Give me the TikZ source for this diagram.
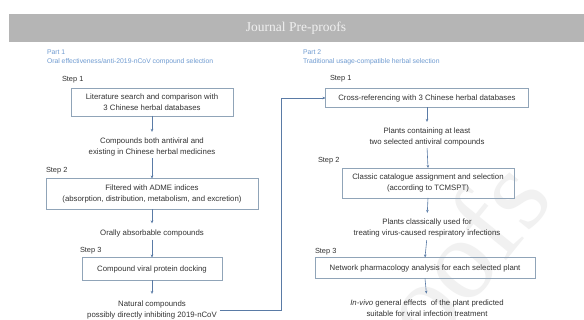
\documentclass[tikz,border=0pt]{standalone}
\usepackage{fontspec}
\setmainfont{Liberation Sans}
\newfontfamily\headserif{Liberation Serif}
\usetikzlibrary{arrows.meta}
\definecolor{partblue}{HTML}{6F9BD1}
\definecolor{boxline}{HTML}{90A4B8}
\definecolor{arrowblue}{HTML}{5A7BA6}
\definecolor{txtgray}{HTML}{333333}
\definecolor{bargray}{HTML}{B5B5B5}
\definecolor{wmgray}{HTML}{F1F1F1}
\begin{document}
\begin{tikzpicture}[x=1pt,y=-1pt,
  every node/.style={inner sep=0pt, outer sep=0pt},
  body/.style={font=\fontsize{7.8}{11}\selectfont, text=txtgray, align=center},
  steplabel/.style={font=\fontsize{7.4}{9}\selectfont, text=txtgray, anchor=west},
  partlabel/.style={font=\fontsize{6.8}{9}\selectfont, text=partblue, anchor=west},
  stepbox/.style={draw=boxline, line width=0.7pt, body},
  conn/.style={draw=arrowblue, line width=0.6pt, -{Stealth[length=3pt,width=2.6pt]}},
]
\useasboundingbox (0,0) rectangle (584,320);
\fill[white] (0,0) rectangle (584,320);
% watermark
\begin{scope}
\clip (0,0) rectangle (584,320);
\node[font=\headserif\fontsize{115}{115}\selectfont, text=wmgray, rotate=51, anchor=base east] (wm) at (556,200) {Journal Pre-proofs};
\end{scope}
% header bar
\fill[bargray] (9,14) rectangle (584,42);
\node[font=\headserif\fontsize{13.5}{13.5}\selectfont, text=white!94!black] (head) at (296,28) {Journal Pre-proofs};

% Part labels
\node[partlabel] (p1) at (47,52) {Part 1};
\node[partlabel] (p1s) at (47,62) {Oral effectiveness/anti-2019-nCoV compound selection};
\node[partlabel] (p2) at (303,52) {Part 2};
\node[partlabel] (p2s) at (303,62) {Traditional usage-compatible herbal selection};

% Left column
\node[steplabel] (ls1) at (62,80) {Step 1};
\node[stepbox, minimum width=162pt, minimum height=28pt] (b1) at (152,102) {Literature search and comparison with\\3 Chinese herbal databases};
\node[body] (t1) at (152,147) {Compounds both antiviral and\\existing in Chinese herbal medicines};
\node[steplabel] (ls2) at (46,171) {Step 2};
\node[stepbox, minimum width=212pt, minimum height=31pt] (b2) at (152,194) {Filtered with ADME indices\\(absorption, distribution, metabolism, and excretion)};
\node[body] (t2) at (152,233) {Orally absorbable compounds};
\node[steplabel] (ls3) at (80,251) {Step 3};
\node[stepbox, minimum width=140pt, minimum height=23pt] (b3) at (152,269) {Compound viral protein docking};
\node[body] (t3) at (152,310) {Natural compounds\\possibly directly inhibiting 2019-nCoV};

% Right column
\node[steplabel] (rs1) at (330,79) {Step 1};
\node[stepbox, minimum width=203pt, minimum height=19pt] (r1) at (427,98) {Cross-referencing with 3 Chinese herbal databases};
\node[body] (rt1) at (427,137) {Plants containing at least\\two selected antiviral compounds};
\node[steplabel] (rs2) at (318,161) {Step 2};
\node[stepbox, minimum width=172pt, minimum height=30pt] (r2) at (428,183) {Classic catalogue assignment and selection\\(according to TCMSPT)};
\node[body] (rt2) at (427,228) {Plants classically used for\\treating virus-caused respiratory infections};
\node[steplabel] (rs3) at (315,252) {Step 3};
\node[stepbox, minimum width=220pt, minimum height=21pt] (r3) at (425,268) {Network pharmacology analysis for each selected plant};
\node[body] (rt3) at (427,308) {\textit{In-vivo} general effects\ \ of the plant predicted\\suitable for viral infection treatment};

% connectors left
\draw[conn, shorten >=6pt] (b1.south) -- (t1.north);
\draw[conn, shorten <=2pt] (t1.south) -- (b2.north);
\draw[conn, shorten >=6pt] (b2.south) -- (t2.north);
\draw[conn, shorten <=3pt] (t2.south) -- (b3.north);
\draw[conn, shorten >=7pt] (b3.south) -- (t3.north);
% connectors right
\draw[conn, shorten >=6pt] (r1.south) -- (rt1.north);
\draw[conn, shorten <=2pt] (rt1.south) -- (r2.north);
\draw[conn, shorten >=6pt] (r2.south) -- (rt2.north);
\draw[conn, shorten <=3pt] (rt2.south) -- (r3.north);
\draw[conn, shorten >=6pt] (r3.south) -- (rt3.north);
% cross connector
\coordinate (bend) at (281,310);
\draw[conn, shorten <=3pt] (t3.east) -- (bend) |- (r1.west);
\end{tikzpicture}
\end{document}
